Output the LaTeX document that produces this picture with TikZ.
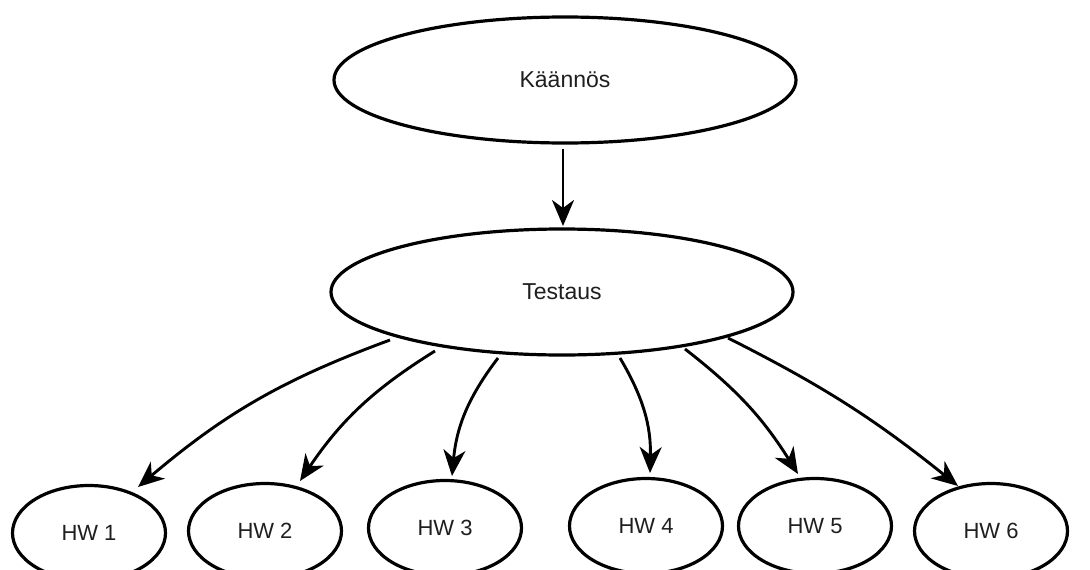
\documentclass[tikz,border=0pt]{standalone}
\usepackage{fontspec}
\setmainfont{Liberation Sans}
\usetikzlibrary{shapes.geometric,arrows.meta,calc}
\begin{document}
\begin{tikzpicture}[x=1pt,y=-1pt,
  oval/.style={ellipse,draw=black,line width=3.2pt,inner sep=0pt,outer sep=0pt,text=black!88},
  bigoval/.style={oval,minimum width=462pt,minimum height=126pt,font=\fontsize{23}{27}\selectfont},
  hwoval/.style={oval,minimum width=153pt,minimum height=95pt,font=\fontsize{22}{26}\selectfont},
  link/.style={line width=2.9pt,-{Stealth[length=26pt,width=22pt,inset=8pt]}}]
\useasboundingbox (0,0) rectangle (1090,570);
\fill[white] (0,0) rectangle (1090,570);
\clip (0,0) rectangle (1090,570);
\node[bigoval] (k) at (565,80) {Käännös};
\node[bigoval] (t) at (562,292) {Testaus};
\node[hwoval] (h1) at (89,533) {HW 1};
\node[hwoval] (h2) at (265,531) {HW 2};
\node[hwoval] (h3) at (445,528) {HW 3};
\node[hwoval] (h4) at (646,526) {HW 4};
\node[hwoval] (h5) at (815,526) {HW 5};
\node[hwoval] (h6) at (991,531) {HW 6};
\draw[link] ($(k.south)+(-2,6)$) -- ($(t.north)+(1,-3)$);
\draw[link] ($(t.center)+(-172,48)$) to[bend right=10] ($(h1.center)+(49,-46)$);
\draw[link] ($(t.center)+(-127,59)$) to[bend right=12] ($(h2.center)+(35,-50)$);
\draw[link] ($(t.center)+(-64,66)$) to[bend right=16] ($(h3.center)+(7,-52)$);
\draw[link] ($(t.center)+(58,66)$) to[bend left=16] ($(h4.center)+(4,-53)$);
\draw[link] ($(t.center)+(123,57)$) to[bend left=10] ($(h5.center)+(-17,-52)$);
\draw[link] ($(t.center)+(166,46)$) to[bend left=6] ($(h6.center)+(-33,-45)$);
\end{tikzpicture}
\end{document}
